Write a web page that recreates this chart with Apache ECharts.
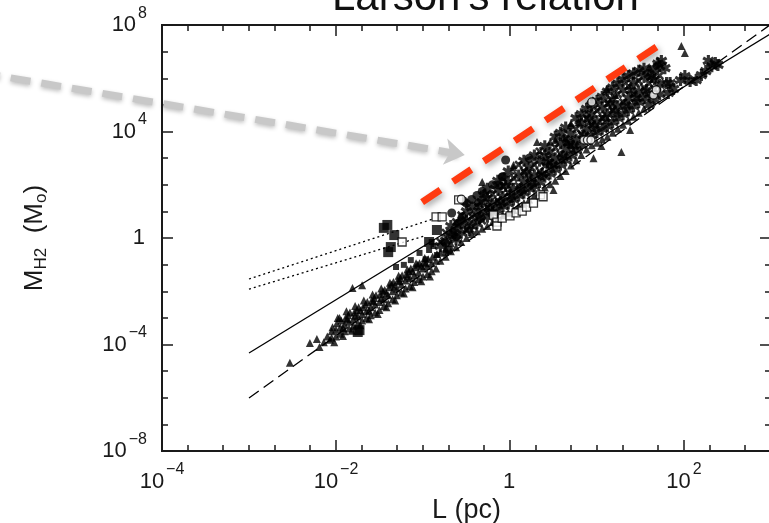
<!DOCTYPE html>
<html>
<head>
<meta charset="utf-8">
<script src="https://cdn.jsdelivr.net/npm/echarts@6/dist/echarts.min.js"></script>
<style>html,body{margin:0;padding:0;background:#fff;}#c{width:769px;height:523px;}</style>
</head>
<body>
<div id="c"></div>
<script>
// All point values are [log10 L (pc), log10 M_H2 (Msun)]
const triangles = [
[-2.53,-4.69],[-2.30,-3.94],[-2.22,-3.79],[-2.19,-4.09],[-2.14,-3.92],[-2.10,-3.70],[-2.07,-3.82],
[-2.05,-3.75],[-2.05,-3.50],[-2.04,-3.35],[-2.00,-3.70],[-2.00,-3.45],[-1.99,-3.20],
[-1.95,-3.60],[-1.95,-3.35],[-1.94,-3.10],[-1.96,-3.00],[-1.90,-3.50],[-1.90,-3.25],[-1.89,-3.00],
[-1.85,-3.40],[-1.85,-3.15],[-1.86,-2.90],[-1.84,-2.80],[-1.80,-3.30],[-1.80,-3.05],[-1.79,-2.80],
[-1.75,-3.20],[-1.75,-2.95],[-1.76,-2.70],[-1.74,-2.60],[-1.70,-3.10],[-1.70,-2.85],[-1.69,-2.60],
[-1.65,-3.00],[-1.65,-2.75],[-1.66,-2.50],[-1.64,-2.40],[-1.60,-2.90],[-1.60,-2.60],[-1.59,-2.35],
[-1.55,-2.80],[-1.55,-2.50],[-1.56,-2.25],[-1.54,-2.15],[-1.50,-2.70],[-1.50,-2.40],[-1.49,-2.10],
[-1.45,-2.55],[-1.45,-2.30],[-1.46,-2.00],[-1.44,-1.95],[-1.40,-2.45],[-1.40,-2.15],[-1.39,-1.85],
[-1.35,-2.30],[-1.35,-2.00],[-1.36,-1.75],[-1.34,-1.65],[-1.30,-2.15],[-1.30,-1.90],[-1.29,-1.60],
[-1.25,-2.05],[-1.25,-1.75],[-1.26,-1.50],[-1.24,-1.40],[-1.20,-1.90],[-1.20,-1.60],[-1.19,-1.35],
[-1.15,-1.80],[-1.15,-1.50],[-1.16,-1.25],[-1.14,-1.15],[-1.10,-1.65],[-1.10,-1.40],[-1.09,-1.10],
[-1.05,-1.55],[-1.05,-1.30],[-1.06,-1.00],[-1.04,-0.95],[-1.00,-1.45],[-1.00,-1.15],[-0.99,-0.90],
[-0.95,-1.35],[-0.95,-1.05],[-0.94,-0.80],[-0.90,-1.25],[-0.90,-0.95],[-0.89,-0.70],
[-0.85,-1.15],[-0.85,-0.85],[-0.84,-0.60],[-1.81,-1.88],[-1.70,-1.77],
[-1.92,-3.38],[-1.78,-2.92],[-1.62,-2.72],[-1.48,-2.25],[-1.33,-1.82],[-1.18,-1.45],[-1.02,-1.05],
[-1.87,-3.05],[-1.72,-2.72],[-1.57,-2.38],[-1.42,-2.08],[-1.27,-1.62],[-1.12,-1.25],[-0.97,-0.95],
[-1.98,-3.00],[-1.88,-2.75],[-1.78,-2.55],[-1.68,-2.35],[-1.58,-2.12],[-1.48,-1.90],[-1.38,-1.68],
[-1.28,-1.42],[-1.18,-1.18],[-1.08,-0.95],[-0.98,-0.75],
[-2.02,-3.92],[-1.92,-3.68],[-1.82,-3.48],[-1.72,-3.28],[-1.62,-3.05],[-1.52,-2.85],[-1.42,-2.60],
[-1.32,-2.35],[-1.22,-2.08],[-1.12,-1.85],[-1.02,-1.62],[-0.92,-1.45],
[-0.80,-0.85],[-0.80,-0.55],[-0.74,-0.70],[-0.74,-0.40],[-0.68,-0.50],[-0.68,-0.20],[-0.62,-0.35],
[-0.56,-0.15],[-0.50,0.00],[-0.44,0.15],[-0.38,0.25],[-0.32,0.35],[-0.26,0.45],[-0.20,0.60],
[-0.14,0.72],[-0.08,0.85],[-0.02,0.95],[0.04,1.05],[0.04,2.65],[0.10,1.20],[0.16,1.32],[0.22,1.45],
[0.28,1.60],[0.34,1.72],[0.40,1.90],[0.46,2.02],[0.46,3.60],[0.52,2.15],[0.58,2.33],[0.64,2.52],
[0.70,2.72],[0.70,4.30],[0.76,2.92],[0.82,3.12],[0.88,3.32],[0.94,3.48],[1.00,3.58],[1.06,3.70],
[1.12,3.80],[1.18,3.95],[1.24,4.10],[1.30,4.25],[1.36,4.40],[1.42,4.55],[1.48,4.70],[1.54,4.85],
[1.60,6.42],[1.97,7.21],[2.01,6.95],[1.38,4.06],[1.28,3.23],[1.05,3.46],[0.96,3.00],[0.50,1.80],
[0.31,3.61],[0.52,3.68],[0.62,3.79],[0.65,3.61],[0.70,4.24],[0.79,4.36],[1.11,5.60],[1.21,5.37],
[-0.32,2.10],[0.04,2.74]
];
const asterisks = [
[-0.80,-0.30],[-0.74,-0.10],[-0.68,0.10],[-0.68,0.45],[-0.62,-0.05],[-0.62,0.30],[-0.56,0.20],[-0.56,0.55],
[-0.50,0.65],[-0.50,1.00],[-0.44,0.45],[-0.44,1.15],[-0.38,0.55],[-0.38,0.90],[-0.32,1.00],[-0.32,1.35],
[-0.26,0.80],[-0.26,1.50],[-0.26,1.85],[-0.20,0.95],[-0.20,1.30],[-0.14,1.05],[-0.14,1.80],[-0.14,2.15],
[-0.08,1.20],[-0.08,1.55],[-0.02,1.30],[-0.02,2.10],[-0.02,2.50],[0.04,1.45],[0.04,1.85],[0.10,1.60],
[0.10,2.35],[0.16,1.70],[0.16,2.10],[0.16,2.90],[0.22,1.85],[0.22,2.65],[0.28,1.95],[0.28,2.35],
[0.28,3.10],[0.34,2.10],[0.34,2.90],[0.40,2.30],[0.40,3.10],[0.40,3.45],[0.46,2.42],[0.46,3.22],
[0.52,2.58],[0.52,3.00],[0.52,3.80],[0.58,2.75],[0.58,3.55],[0.58,3.95],[0.64,2.92],[0.64,3.32],[0.64,4.15],
[0.70,3.10],[0.70,3.90],[0.76,3.30],[0.76,3.70],[0.76,4.50],[0.82,3.50],[0.82,4.30],[0.82,4.65],
[0.88,3.70],[0.88,4.10],[0.88,4.85],[0.94,3.85],[0.94,4.65],[0.94,5.00],[1.00,3.98],[1.00,4.38],[1.00,5.15],
[1.06,4.10],[1.06,4.90],[1.06,5.30],[1.12,4.20],[1.12,4.65],[1.12,5.50],[1.18,4.35],[1.18,5.20],[1.18,5.65],
[1.24,4.50],[1.24,4.95],[1.24,5.80],[1.30,4.65],[1.30,5.55],[1.30,5.95],[1.36,4.80],[1.36,5.25],[1.36,6.08],
[1.42,4.95],[1.42,5.82],[1.42,6.18],[1.48,5.10],[1.48,5.50],[1.48,6.28],[1.54,5.25],[1.54,6.05],[1.54,6.36],
[1.60,5.00],[1.60,5.40],[1.60,6.15],[1.66,5.20],[1.66,5.95],[1.66,6.35],[1.72,5.40],[1.72,5.75],[1.72,6.45],
[1.80,5.82],[1.84,5.82],[1.82,5.45],[1.88,5.60],[1.74,6.65],[1.78,6.38],[1.70,6.55],[1.96,5.93],[2.01,6.08],
[2.07,5.90],[2.14,5.93],[2.20,6.12],[2.25,6.27],[2.28,6.65],[2.36,6.57],[2.39,6.50],[2.32,6.45],
[-0.47,0.30],[-0.35,0.75],[-0.23,1.10],[-0.11,1.35],[0.01,1.55],[0.13,1.80],[0.25,2.05],[0.37,2.40],
[0.49,2.75],[0.61,3.05],[0.73,3.45],[0.85,3.85],[0.97,4.20],[1.09,4.50],[1.21,4.75],[1.33,5.00],
[1.45,5.25],[1.57,5.55],[-0.29,1.62],[-0.05,1.95],[0.19,2.45],[0.43,2.85],[0.67,3.60],[0.91,4.45],
[1.15,5.05],[1.39,5.55],[1.63,6.05]
];
const crosses = [
[-0.80,-0.15],[-0.74,0.20],[-0.62,0.60],[-0.56,0.85],[-0.50,0.30],[-0.44,0.80],[-0.38,1.20],[-0.32,0.65],
[-0.26,1.15],[-0.20,1.65],[-0.14,1.40],[-0.08,1.95],[-0.02,1.70],[0.04,2.25],[0.10,1.95],[0.10,2.75],
[0.16,2.50],[0.22,2.25],[0.28,2.75],[0.34,2.50],[0.34,3.25],[0.40,2.70],[0.46,2.82],[0.52,3.40],
[0.58,3.15],[0.64,3.72],[0.70,3.50],[0.76,4.10],[0.82,3.90],[0.88,4.50],[0.94,4.25],[1.00,4.78],
[1.06,4.50],[1.12,5.05],[1.18,4.80],[1.24,5.40],[1.30,5.10],[1.36,5.70],[1.42,5.40],[1.48,5.90],
[1.54,5.65],[1.60,5.80],[1.66,5.60],[1.72,6.10]
];
const filledCircles = [
[-0.74,-0.19],[-0.62,0.04],[-0.67,0.94],[-0.55,0.79],[-0.36,1.31],[-0.13,1.99],[-0.05,2.93],[-0.09,2.29],
[-0.50,1.30],[-0.44,1.45],[-0.38,1.60],[-0.32,1.75],[-0.20,2.00],[-0.08,2.30],[0.22,3.00],[-0.60,0.55],
[-0.70,-0.45],[-0.66,0.20],[-0.53,1.38]
];
const openCircles = [
[1.65,5.37],[1.68,5.56],[0.94,5.11],[0.85,3.68],[0.89,3.68],[0.93,3.68],[-0.56,1.46]
];
const openSquares = [
[-0.85,0.79],[-0.78,0.79],[-0.59,1.43],[-1.24,-0.15],[-0.19,0.86],[-0.15,0.60],[-0.15,0.45],[-0.09,0.75],
[0.00,0.83],[0.07,0.94],[0.14,1.01],[0.19,1.16],[0.27,1.31],[0.35,1.62],[0.38,1.55]
];
const bigSquares = [
[-1.41,0.49],[-1.45,0.38],[-1.33,0.11],[-1.37,-0.34],[-1.40,-0.53],[-0.84,0.30],[-0.93,-0.15],
[-1.75,-3.53],[-1.73,-3.46]
];
const smallSquares = [
[-1.31,-1.09],[-1.22,-1.01],[-1.14,-0.83],[-1.04,-0.56],[-0.93,-0.45],[-0.90,-0.15],[-0.84,-0.64],
[-0.74,-0.56],[-0.97,-0.80],[-0.88,-0.30]
];
// fit lines (endpoints, same units)
const solidFit = [[-3,-4.32],[3,7.68]];
const dashedFit = [[-3,-6.01],[3,8.03]];
const dottedFitUpper = [[-3,-1.54],[-0.88,0.72]];
const dottedFitLower = [[-3,-1.92],[-0.98,0.08]];
// annotations
const redDashedLine = [[-1.01,1.35],[1.70,7.21]];
const greyArrow = [[-6.09,6.21],[-0.52,3.12]];
// ticks (real values)
const xMajorTicks = [1e-4,1e-2,1,1e2];
const xMinorTicks = [2e-4,5e-4,1e-3,2e-3,5e-3,2e-2,5e-2,1e-1,2e-1,5e-1,2,5,10,20,50,200,500,1000];
const yMajorTicks = [1e-8,1e-4,1,1e4,1e8];
const yMinorTicks = [1e-7,1e-6,1e-5,1e-3,1e-2,1e-1,10,100,1000,1e5,1e6,1e7];
const titleText = "Larson's relation";
const xName = 'L (pc)';

const lg = a => a.map(v => Math.log10(v));
const FONT = 'Liberation Sans';
const INK = '#1a1a1a';

function bars(angles, hw) {
  let s = 'path://';
  for (const a of angles) {
    const r = a * Math.PI / 180, c = Math.cos(r), sn = Math.sin(r);
    const px = -sn * hw, py = c * hw;
    const p = [[10 + c*10 + px, 10 + sn*10 + py],[10 + c*10 - px, 10 + sn*10 - py],[10 - c*10 - px, 10 - sn*10 - py],[10 - c*10 + px, 10 - sn*10 + py]];
    s += 'M' + p.map(q => q[0].toFixed(2) + ',' + q[1].toFixed(2)).join('L') + 'Z';
  }
  return s;
}
const asteriskPath = bars([90, 30, 150], 2.6);
const crossPath = bars([45, 135], 2.6);

function expLabel(v) {
  const e = Math.round(v);
  if (e === 0) return '{b|1}{s|\u200b}';
  return '{b|10}{s|' + (e < 0 ? '\u2212' : '') + Math.abs(e) + '}';
}
const labelRich = {
  b: { fontFamily: FONT, fontSize: 22, color: INK },
  s: { fontFamily: FONT, fontSize: 16, color: INK, padding: [0, 0, 23, 2] }
};

const axisLine = { show: true, onZero: false, lineStyle: { color: INK, width: 2 } };
function xAx(pos, major, label) {
  return {
    type: 'value', min: -4, max: 3, position: pos, gridIndex: 0,
    axisLine: axisLine, splitLine: { show: false },
    axisTick: { show: true, inside: true, length: major ? 11 : 6, lineStyle: { color: INK, width: 1.5 },
      customValues: major ? lg(xMajorTicks) : lg(xMinorTicks) },
    axisLabel: label ? { show: true, customValues: lg(xMajorTicks), formatter: expLabel, rich: labelRich, margin: 11 } : { show: false },
    name: label ? xName : '', nameLocation: 'middle', nameGap: 40,
    nameTextStyle: { fontFamily: FONT, fontSize: 27, color: INK }
  };
}
function yAx(pos, major, label) {
  return {
    type: 'value', min: -8, max: 8, position: pos, gridIndex: 0,
    axisLine: axisLine, splitLine: { show: false },
    axisTick: { show: true, inside: true, length: major ? 11 : 6, lineStyle: { color: INK, width: 1.5 },
      customValues: major ? lg(yMajorTicks) : lg(yMinorTicks) },
    axisLabel: label ? { show: true, customValues: lg(yMajorTicks), formatter: expLabel, rich: labelRich, margin: 15 } : { show: false },
    name: label ? '{m|M}{s|H2}{m|  (M}{s|o}{m|)}' : '', nameLocation: 'middle', nameGap: 112,
    nameTextStyle: { rich: {
      m: { fontFamily: FONT, fontSize: 26, color: INK },
      s: { fontFamily: FONT, fontSize: 17, color: INK, padding: [14, 0, 0, 0] }
    } }
  };
}
function scatter(name, data, symbol, size, style, z) {
  return { type: 'scatter', name, data, symbol, symbolSize: size, itemStyle: style, z: z || 3, silent: true };
}
function fit(data, type, width) {
  return { type: 'line', data, showSymbol: false, symbol: 'none', lineStyle: { color: '#000', width: width || 1.3, type }, z: 2, silent: true };
}

const chart = echarts.init(document.getElementById('c'), null, { renderer: 'canvas' });
chart.setOption({
  animation: false,
  backgroundColor: '#fff',
  title: { text: titleText, left: 332, top: -23, padding: 0,
    textStyle: { fontFamily: FONT, fontSize: 42, fontWeight: 'normal', color: '#111' } },
  grid: { left: 162, top: 25, width: 609, height: 426, containLabel: false, outerBoundsMode: 'none' },
  xAxis: [xAx('bottom', true, true), xAx('bottom', false, false), xAx('top', true, false), xAx('top', false, false)],
  yAxis: [yAx('left', true, true), yAx('left', false, false), yAx('right', true, false), yAx('right', false, false)],
  series: [
    fit(solidFit, 'solid'),
    fit(dashedFit, [12, 6]),
    fit(dottedFitUpper, [2, 3]),
    fit(dottedFitLower, [2, 3]),
    scatter('triangles', triangles, 'triangle', 8, { color: '#000' }),
    scatter('asterisks', asterisks, asteriskPath, 12, { color: '#000' }),
    scatter('crosses', crosses, crossPath, 9, { color: '#000' }),
    scatter('filledCircles', filledCircles, 'circle', 9, { color: '#000' }),
    scatter('bigSquares', bigSquares, 'rect', 10, { color: '#000' }),
    scatter('smallSquares', smallSquares, 'rect', 6, { color: '#000' }),
    scatter('openSquares', openSquares, 'rect', 8, { color: '#fff', borderColor: '#000', borderWidth: 1.3 }, 4),
    scatter('openCircles', openCircles, 'circle', 8, { color: '#fff', borderColor: '#000', borderWidth: 1.3 }, 4),
    { type: 'line', data: redDashedLine, showSymbol: false, symbol: 'none', z: 6, silent: true,
      lineStyle: { color: '#ff3a10', width: 7, type: [22, 15], cap: 'butt',
        shadowColor: 'rgba(0,0,0,0.35)', shadowBlur: 6, shadowOffsetX: 2, shadowOffsetY: 3 } },
    { type: 'lines', coordinateSystem: 'cartesian2d', clip: false, z: 6, silent: true,
      symbol: ['none', 'arrow'], symbolSize: 20,
      lineStyle: { color: '#c8c8c8', width: 7, type: [20, 11], opacity: 1,
        shadowColor: 'rgba(0,0,0,0.25)', shadowBlur: 4, shadowOffsetY: 2 },
      data: [{ coords: greyArrow }] }
  ]
});
</script>
</body>
</html>
